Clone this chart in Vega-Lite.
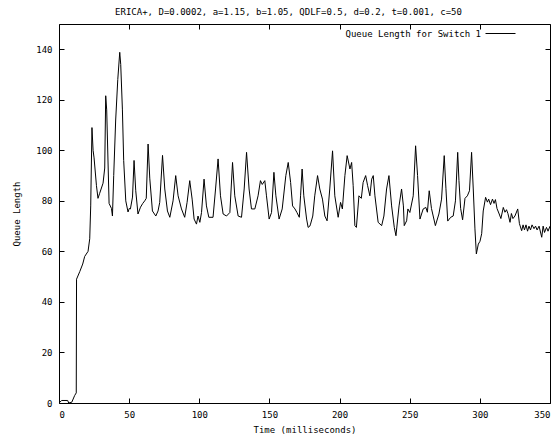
{
  "$schema": "https://vega.github.io/schema/vega-lite/v6.json",
  "width": 491,
  "height": 379,
  "autosize": {"type": "none"},
  "padding": {"left": 59, "top": 24, "right": 10, "bottom": 37},
  "background": "white",
  "config": {
    "font": "DejaVu Sans Mono",
    "view": {"stroke": "black", "strokeWidth": 1},
    "axis": {
      "grid": false,
      "domain": false,
      "domainColor": "black",
      "tickColor": "black",
      "labelColor": "black",
      "titleColor": "black",
      "labelFont": "DejaVu Sans Mono",
      "titleFont": "DejaVu Sans Mono",
      "labelFontSize": 9,
      "titleFontSize": 9,
      "titleFontWeight": "normal",
      "tickSize": 5,
      "tickWidth": 1
    }
  },
  "title": {
    "text": "ERICA+, D=0.0002, a=1.15, b=1.05, QDLF=0.5, d=0.2, t=0.001, c=50",
    "font": "DejaVu Sans Mono",
    "fontSize": 9,
    "fontWeight": "normal",
    "color": "black",
    "offset": 1,
    "dx": -16
  },
  "data": {
    "values": [
      {"t": 0, "v": 0}, {"t": 1.9, "v": 1}, {"t": 6.2, "v": 1}, {"t": 6.9, "v": 0}, {"t": 9.1, "v": 0.3},
      {"t": 11.2, "v": 3}, {"t": 12.3, "v": 4}, {"t": 12.5, "v": 49}, {"t": 14.8, "v": 52}, {"t": 16.9, "v": 55},
      {"t": 18.3, "v": 58}, {"t": 20.7, "v": 60}, {"t": 21.9, "v": 65}, {"t": 22.6, "v": 78}, {"t": 23.5, "v": 109},
      {"t": 24.3, "v": 100}, {"t": 25, "v": 97}, {"t": 26.7, "v": 86}, {"t": 27.8, "v": 81}, {"t": 29, "v": 83},
      {"t": 31.4, "v": 87}, {"t": 32.6, "v": 93}, {"t": 33.3, "v": 121.6}, {"t": 34, "v": 116}, {"t": 35.7, "v": 79},
      {"t": 37.4, "v": 77}, {"t": 38.1, "v": 74}, {"t": 39, "v": 90}, {"t": 40.4, "v": 112}, {"t": 41.9, "v": 128},
      {"t": 43.3, "v": 138.8}, {"t": 44, "v": 134}, {"t": 45.2, "v": 116}, {"t": 46.1, "v": 96}, {"t": 47.6, "v": 80},
      {"t": 49.2, "v": 75.6}, {"t": 50.1, "v": 77}, {"t": 50.9, "v": 76.8}, {"t": 52.4, "v": 81.5}, {"t": 53.5, "v": 96},
      {"t": 54.7, "v": 84}, {"t": 56.3, "v": 74.8}, {"t": 58.1, "v": 77.5}, {"t": 59.7, "v": 79}, {"t": 61.1, "v": 80},
      {"t": 62.2, "v": 81}, {"t": 63.5, "v": 102.5}, {"t": 64.7, "v": 89}, {"t": 66.6, "v": 76}, {"t": 69, "v": 74},
      {"t": 70.6, "v": 76}, {"t": 71.8, "v": 79.4}, {"t": 73.8, "v": 98}, {"t": 75.4, "v": 84.7}, {"t": 77.3, "v": 76},
      {"t": 79, "v": 73.5}, {"t": 81.3, "v": 80}, {"t": 83.2, "v": 90}, {"t": 84.9, "v": 82}, {"t": 87.3, "v": 76.8},
      {"t": 89.6, "v": 73.5}, {"t": 91.3, "v": 79.4}, {"t": 93.2, "v": 88}, {"t": 94.9, "v": 80.7}, {"t": 96.3, "v": 72.8},
      {"t": 98, "v": 70.8}, {"t": 99.1, "v": 74}, {"t": 100.4, "v": 71.5}, {"t": 101.6, "v": 75.4}, {"t": 103.4, "v": 88.6},
      {"t": 105.1, "v": 78}, {"t": 106.8, "v": 73.5}, {"t": 109.8, "v": 73.5}, {"t": 111.6, "v": 84.7}, {"t": 113.4, "v": 96.6},
      {"t": 115.1, "v": 82}, {"t": 117, "v": 74.8}, {"t": 119.4, "v": 74}, {"t": 121.8, "v": 75.4}, {"t": 123.7, "v": 95.2},
      {"t": 125.3, "v": 82}, {"t": 127.7, "v": 74}, {"t": 130.1, "v": 73.5}, {"t": 132, "v": 84.7}, {"t": 133.7, "v": 99.2},
      {"t": 135.5, "v": 84.7}, {"t": 137.2, "v": 76.8}, {"t": 139.6, "v": 76.8}, {"t": 141.9, "v": 82}, {"t": 143.6, "v": 88},
      {"t": 144.9, "v": 86.5}, {"t": 146.7, "v": 88}, {"t": 147.9, "v": 82}, {"t": 149.8, "v": 72.8}, {"t": 151.5, "v": 75.4},
      {"t": 153.2, "v": 91.3}, {"t": 154.6, "v": 82}, {"t": 156.9, "v": 72.8}, {"t": 159.1, "v": 76.8}, {"t": 161.7, "v": 90},
      {"t": 163.4, "v": 95.2}, {"t": 165.1, "v": 87.3}, {"t": 166.5, "v": 78}, {"t": 168.2, "v": 76.8}, {"t": 169.6, "v": 75.4},
      {"t": 171.3, "v": 73.5}, {"t": 172.2, "v": 82}, {"t": 173.3, "v": 92.6}, {"t": 174.5, "v": 82}, {"t": 176.5, "v": 72.8},
      {"t": 177.6, "v": 69.5}, {"t": 178.8, "v": 70}, {"t": 179.3, "v": 70.8}, {"t": 180.9, "v": 74}, {"t": 182.3, "v": 82},
      {"t": 184.3, "v": 90}, {"t": 185.9, "v": 84.7}, {"t": 187.8, "v": 80.7}, {"t": 189.5, "v": 74}, {"t": 191.1, "v": 72.1},
      {"t": 193, "v": 84.7}, {"t": 195, "v": 99.8}, {"t": 196.6, "v": 82}, {"t": 199, "v": 73.5}, {"t": 200.7, "v": 79.4},
      {"t": 202, "v": 76.8}, {"t": 203.8, "v": 90}, {"t": 205.4, "v": 97.9}, {"t": 207.4, "v": 92.6}, {"t": 208.6, "v": 95.2},
      {"t": 209.7, "v": 86}, {"t": 210.9, "v": 70.2}, {"t": 212, "v": 69.5}, {"t": 213.8, "v": 82}, {"t": 215.5, "v": 81},
      {"t": 216.8, "v": 87.3}, {"t": 218.6, "v": 90}, {"t": 220, "v": 86}, {"t": 221.6, "v": 82}, {"t": 222.9, "v": 88.6},
      {"t": 224, "v": 90}, {"t": 225.2, "v": 82}, {"t": 227.5, "v": 71.5}, {"t": 230, "v": 70.2}, {"t": 231.6, "v": 74},
      {"t": 233.5, "v": 84.7}, {"t": 235.2, "v": 90}, {"t": 237.1, "v": 78}, {"t": 239, "v": 69.5}, {"t": 240.2, "v": 66.2},
      {"t": 242.4, "v": 78}, {"t": 244.2, "v": 84.7}, {"t": 245.5, "v": 78}, {"t": 246.1, "v": 70.2}, {"t": 247.8, "v": 72.1},
      {"t": 248.7, "v": 76.8}, {"t": 250.1, "v": 75.4}, {"t": 252.5, "v": 82}, {"t": 254.2, "v": 101.8}, {"t": 255.6, "v": 90},
      {"t": 257.3, "v": 72.8}, {"t": 259.6, "v": 76.8}, {"t": 261.5, "v": 77.4}, {"t": 262.6, "v": 75.5}, {"t": 263.9, "v": 84},
      {"t": 265.5, "v": 77}, {"t": 268.3, "v": 70.2}, {"t": 270.8, "v": 74.8}, {"t": 272.7, "v": 80.7}, {"t": 274.6, "v": 97.9},
      {"t": 275.8, "v": 85}, {"t": 277.1, "v": 72}, {"t": 279.2, "v": 73.5}, {"t": 281, "v": 74}, {"t": 282.6, "v": 80},
      {"t": 284.2, "v": 99.2}, {"t": 285.1, "v": 88}, {"t": 286.3, "v": 77}, {"t": 287.7, "v": 72.5}, {"t": 289.4, "v": 81},
      {"t": 291.1, "v": 82}, {"t": 292.6, "v": 84}, {"t": 294.1, "v": 99.2}, {"t": 295.3, "v": 84.7}, {"t": 296.5, "v": 68.9},
      {"t": 297.5, "v": 59}, {"t": 298.9, "v": 62.9}, {"t": 300.1, "v": 64}, {"t": 301.3, "v": 67}, {"t": 302.4, "v": 76},
      {"t": 304.1, "v": 81.4}, {"t": 305.4, "v": 79.5}, {"t": 306.3, "v": 80.7}, {"t": 307.6, "v": 78.5}, {"t": 309, "v": 80.7},
      {"t": 310.1, "v": 79}, {"t": 311.1, "v": 80.5}, {"t": 312.2, "v": 77}, {"t": 313.8, "v": 74.8}, {"t": 315, "v": 73},
      {"t": 316.7, "v": 77.4}, {"t": 317.9, "v": 75.5}, {"t": 319, "v": 76.5}, {"t": 320, "v": 75}, {"t": 321.5, "v": 71.5},
      {"t": 322.5, "v": 75}, {"t": 323.6, "v": 73}, {"t": 325, "v": 74}, {"t": 327, "v": 76.8}, {"t": 328.2, "v": 71},
      {"t": 329.8, "v": 68.2}, {"t": 330.8, "v": 70.5}, {"t": 331.8, "v": 68.5}, {"t": 332.9, "v": 70.5}, {"t": 334, "v": 68},
      {"t": 335, "v": 70}, {"t": 336.1, "v": 68.5}, {"t": 337.2, "v": 70.5}, {"t": 338.6, "v": 69}, {"t": 339.7, "v": 70},
      {"t": 340.8, "v": 68.5}, {"t": 342.2, "v": 70}, {"t": 344.1, "v": 65.6}, {"t": 345.1, "v": 70}, {"t": 346.1, "v": 67.5},
      {"t": 347.5, "v": 69.5}, {"t": 348.6, "v": 68}, {"t": 350, "v": 70}
    ]
  },
  "layer": [
    {
      "mark": {"type": "line", "strokeWidth": 1, "clip": true},
      "encoding": {
        "x": {
          "field": "t",
          "type": "quantitative",
          "scale": {"domain": [0, 350], "nice": false, "zero": false},
          "axis": {
            "title": "Time (milliseconds)",
            "values": [0, 50, 100, 150, 200, 250, 300, 350],
            "ticks": false,
            "labelPadding": 7,
            "titlePadding": 6
          }
        },
        "y": {
          "field": "v",
          "type": "quantitative",
          "scale": {"domain": [0, 150], "nice": false},
          "axis": {
            "title": "Queue Length",
            "values": [0, 20, 40, 60, 80, 100, 120, 140],
            "ticks": false,
            "labelPadding": 7,
            "titlePadding": 14
          }
        },
        "color": {
          "datum": "Queue Length for Switch 1",
          "scale": {"range": ["black"]},
          "legend": {
            "title": null,
            "orient": "none",
            "legendX": 426,
            "legendY": -6,
            "symbolType": "stroke",
            "symbolSize": 900,
            "symbolStrokeWidth": 1,
            "symbolStrokeColor": "black",
            "labelAlign": "right",
            "labelOffset": -35,
            "labelFont": "DejaVu Sans Mono",
            "labelFontSize": 9,
            "labelColor": "black",
            "padding": 0
          }
        }
      }
    },
    {
      "mark": {"type": "line", "opacity": 0},
      "encoding": {
        "x": {
          "field": "t",
          "type": "quantitative",
          "axis": {"orient": "bottom", "offset": -5, "labels": false, "title": null, "values": [0, 50, 100, 150, 200, 250, 300, 350]}
        },
        "y": {
          "field": "v",
          "type": "quantitative",
          "axis": {"orient": "left", "offset": -5, "labels": false, "title": null, "values": [0, 20, 40, 60, 80, 100, 120, 140]}
        }
      }
    },
    {
      "mark": {"type": "line", "opacity": 0},
      "encoding": {
        "x": {
          "field": "t",
          "type": "quantitative",
          "axis": {"orient": "top", "offset": -5, "labels": false, "title": null, "values": [0, 50, 100, 150, 200, 250, 300, 350]}
        },
        "y": {
          "field": "v",
          "type": "quantitative",
          "axis": {"orient": "right", "offset": -5, "labels": false, "title": null, "values": [0, 20, 40, 60, 80, 100, 120, 140]}
        }
      }
    }
  ],
  "resolve": {"axis": {"x": "independent", "y": "independent"}}
}
